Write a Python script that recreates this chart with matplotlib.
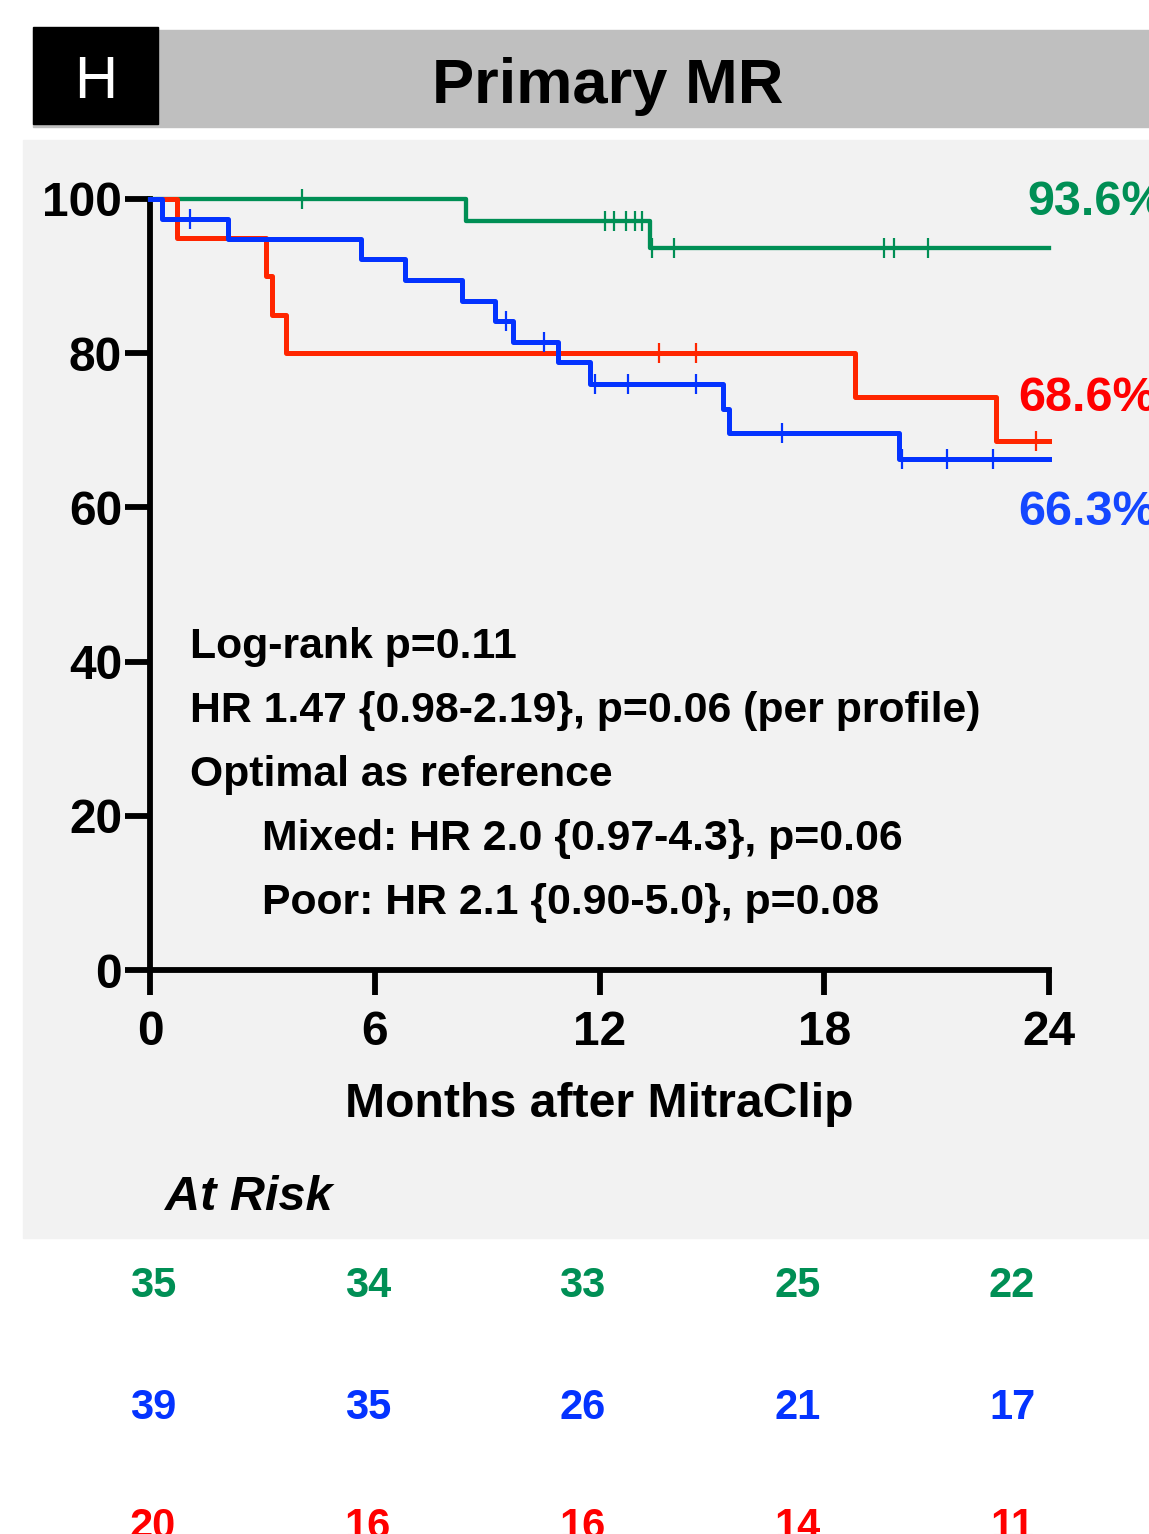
import numpy as np
import matplotlib
matplotlib.use('Agg')
import matplotlib.pyplot as plt
from matplotlib.patches import Rectangle
from matplotlib.transforms import blended_transform_factory

plt.rcParams['font.family'] = ['Liberation Sans', 'DejaVu Sans']

# survival curves (months, % free of event)
green_t = [0, 8.44, 13.35, 24]
green_s = [100, 97.1, 93.6, 93.6]
green_cens = [4.06, 12.15, 12.39, 12.71, 12.95, 13.13, 13.4, 14.0, 19.6, 19.87, 20.77]

red_t = [0, 0.71, 3.1, 3.25, 3.62, 18.83, 22.59, 24]
red_s = [100, 95.0, 90.0, 85.0, 80.0, 74.3, 68.6, 68.6]
red_cens = [13.6, 14.57, 23.65]

blue_t = [0, 0.31, 2.07, 5.63, 6.82, 8.32, 9.21, 9.7, 10.9, 11.75, 15.3, 15.45, 20.0, 24]
blue_s = [100, 97.4, 94.8, 92.2, 89.5, 86.8, 84.2, 81.5, 78.8, 76.0, 72.8, 69.6, 66.3, 66.3]
blue_cens = [1.08, 9.5, 10.53, 11.89, 12.75, 14.57, 16.88, 20.07, 21.29, 22.5]

end_labels = ['93.6%', '68.6%', '66.3%']

risk_months = [0, 6, 12, 18, 24]
risk_green = [35, 34, 33, 25, 22]
risk_blue = [39, 35, 26, 21, 17]
risk_red = [20, 16, 16, 14, 11]

xticks = [0, 6, 12, 18, 24]
yticks = [0, 20, 40, 60, 80, 100]

GREEN = '#008f55'
BLUE = '#0433ff'
RED = '#ff2600'
RED_TXT = '#ff0000'
BLUE_TXT = '#1447ff'

W, H = 1149, 1534
fig = plt.figure(figsize=(W / 100, H / 100), dpi=100)

def fx(px):
    return px / W

def fy(py):
    return 1 - py / H

# backgrounds
fig.patches.append(Rectangle((fx(23), fy(1238)), fx(1149 - 23), (1238 - 140) / H,
                             transform=fig.transFigure, color='#f2f2f2', zorder=-3))
fig.patches.append(Rectangle((fx(33), fy(127)), fx(1149 - 33), (127 - 30) / H,
                             transform=fig.transFigure, color='#bfbfbf', zorder=-3))
fig.patches.append(Rectangle((fx(33), fy(124)), fx(158 - 33), (124 - 27) / H,
                             transform=fig.transFigure, color='black', zorder=-2))
fig.text(fx(96), fy(98), 'H', color='white', fontsize=43, ha='center', va='baseline')
fig.text(fx(608), fy(103), 'Primary MR', color='black', fontsize=45.5,
         fontweight='bold', ha='center', va='baseline')

ax = fig.add_axes([fx(150), fy(970), fx(1049 - 150), (970 - 199) / H])
ax.set_facecolor('none')


def surv_at(t, times, surv):
    i = np.searchsorted(times, t, side='right') - 1
    return surv[i]


for t, s, c, cens in [(green_t, green_s, GREEN, green_cens),
                      (red_t, red_s, RED, red_cens),
                      (blue_t, blue_s, BLUE, blue_cens)]:
    lw = 3.1 if c == GREEN else 3.6
    ax.step(t, s, where='post', color=c, lw=lw, clip_on=False, zorder=3)
    cy = [surv_at(x, t, s) for x in cens]
    ax.plot(cens, cy, ls='none', marker='|', ms=14, mew=1.6, color=c,
            clip_on=False, zorder=4)

ax.set_xlim(0, 24)
ax.set_ylim(0, 100)
ax.set_xticks(xticks)
ax.set_yticks(yticks)
for sp in ['top', 'right']:
    ax.spines[sp].set_visible(False)
for sp in ['left', 'bottom']:
    ax.spines[sp].set_linewidth(4.2)
ax.tick_params(axis='both', direction='out', length=18, width=4.2,
               labelsize=34.5)
ax.tick_params(axis='y', pad=2)
ax.tick_params(axis='x', pad=11)
for lab in ax.get_xticklabels() + ax.get_yticklabels():
    lab.set_fontweight('bold')
ax.set_xlabel('Months after MitraClip', fontsize=34.7, fontweight='bold', labelpad=19)

# end-of-curve percentages
ax.text(23.41, 97.9, end_labels[0], color=GREEN, fontsize=35, fontweight='bold',
        va='baseline', clip_on=False)
ax.text(23.17, 72.5, end_labels[1], color=RED_TXT, fontsize=35, fontweight='bold',
        va='baseline', clip_on=False)
ax.text(23.17, 57.7, end_labels[2], color=BLUE_TXT, fontsize=35, fontweight='bold',
        va='baseline', clip_on=False)

stats = [(1.07, 'Log-rank p=0.11'),
         (1.07, 'HR 1.47 {0.98-2.19}, p=0.06 (per profile)'),
         (1.07, 'Optimal as reference'),
         (2.99, 'Mixed: HR 2.0 {0.97-4.3}, p=0.06'),
         (2.99, 'Poor: HR 2.1 {0.90-5.0}, p=0.08')]
for i, (x, s) in enumerate(stats):
    ax.text(x, 40.5 - i * 8.3, s, fontsize=30.8, fontweight='bold', va='baseline')

# at risk table
fig.text(fx(165), fy(1210), 'At Risk', fontsize=35, fontweight='bold',
         fontstyle='italic', va='baseline')
ax_r = fig.add_axes([fx(153), 0, fx(1012 - 153), 0.01])
ax_r.set_xlim(0, 24)
ax_r.axis('off')
tr = blended_transform_factory(ax_r.transData, fig.transFigure)
for vals, c, base in [(risk_green, GREEN, 1297), (risk_blue, BLUE, 1419), (risk_red, RED_TXT, 1538)]:
    for m, v in zip(risk_months, vals):
        fig.text(m, fy(base), str(v), transform=tr, color=c, fontsize=30,
                 fontweight='bold', ha='center', va='baseline')

fig.savefig('out.png', dpi=100)
